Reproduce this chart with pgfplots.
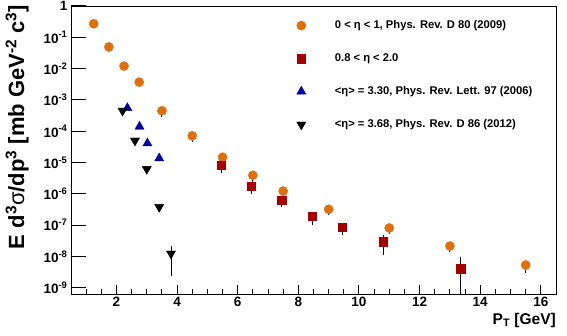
\documentclass[border=0pt]{standalone}
\usepackage{pgfplots}
\pgfplotsset{compat=1.18}
\usepackage{fontspec}
\setmainfont{Liberation Sans}
\definecolor{corange}{RGB}{220,112,14}
\definecolor{cred}{RGB}{165,0,0}
\definecolor{cblue}{RGB}{0,0,160}

\pgfplotstableread{
x y ep em
1.25 0.27 0.02 0.02
1.75 0.049 0.004 0.004
2.25 0.012 0.001 0.001
2.75 0.0037 0.0004 0.0004
3.5 4.5e-4 1.2e-4 1.6e-4
4.5 7.1e-5 2.0e-5 2.6e-5
5.5 1.47e-5 4e-6 5e-6
6.5 3.9e-6 1.1e-6 1.6e-6
7.5 1.22e-6 3e-7 4e-7
9 3.2e-7 8e-8 1.1e-7
11 8.1e-8 2e-8 2.8e-8
13 2.15e-8 7e-9 8e-9
15.5 5.3e-9 2e-9 2.4e-9
}\datacirc

\pgfplotstableread{
x y ep em
5.45 8.1e-6 2.4e-6 3.4e-6
6.45 1.73e-6 5e-7 7.3e-7
7.45 6.2e-7 1.8e-7 2.4e-7
8.46 1.9e-7 7.6e-8 9e-8
9.45 8.5e-8 3.4e-8 3.8e-8
10.8 3.0e-8 1.9e-8 1.86e-8
13.35 4.0e-9 5.7e-9 3.99e-9
}\datasq

\pgfplotstableread{
x y
2.36 5.5e-4
2.76 1.4e-4
3.02 4.1e-5
3.41 1.36e-5
}\datatri

\pgfplotstableread{
x y ep em
2.2 4.5e-4 0 0
2.61 5e-5 0 0
3.0 6.2e-6 0 0
3.41 3.8e-7 0 0
3.8 1.23e-8 8.8e-9 1.0e-8
}\datadown

\begin{document}
\begin{tikzpicture}
% y ticks, data, legend
\begin{axis}[name=ax, scale only axis, width=485pt, height=288pt,
  ymode=log, log basis y=10, xmin=0.5, xmax=16.5, ymin=6.3e-10, ymax=1,
  axis line style={line width=0.9pt},
  tick align=inside, tick pos=left,
  tick style={black, line width=1pt},
  ticklabel style={font=\bfseries\fontsize{13.5}{14}\selectfont},
  major tick length=15pt, minor tick length=7.5pt,
  xtick=\empty,
  ytickten={-9,-8,...,0},
  yticklabel={\pgfmathtruncatemacro\ee{round(\tick)}\ifnum\ee=0 1\else 10\textsuperscript{\ee}\fi},
  ylabel={E d\textsuperscript{3}{\mdseries σ}/dp\textsuperscript{3} [mb GeV\textsuperscript{-2} c\textsuperscript{3}]},
  ylabel style={font=\bfseries\fontsize{22}{23}\selectfont, at={(axis description cs:-0.111,1.005)}, anchor=east, inner sep=0pt},
  legend style={draw=none, fill=none, at={(axis description cs:0.465,0.76)}, anchor=west,
    font=\bfseries\fontsize{11.2}{12}\selectfont, row sep=19.5pt, inner sep=0pt,
    /tikz/every odd column/.append style={column sep=27pt}},
  legend cell align=left,
]
\addplot[only marks, mark=*, mark size=4.6pt, color=corange,
  error bars/.cd, y dir=both, y explicit, error mark=none,
  error bar style={black, line width=1pt}]
  table[x=x, y=y, y error plus=ep, y error minus=em] {\datacirc};
\addlegendentry{0 < η < 1, Phys. Rev. D 80 (2009)}
\addplot[only marks, mark=square*, mark size=4.3pt, color=cred,
  error bars/.cd, y dir=both, y explicit, error mark=none,
  error bar style={black, line width=1pt}]
  table[x=x, y=y, y error plus=ep, y error minus=em] {\datasq};
\addlegendentry{0.8 < η < 2.0}
\addplot[only marks, mark=triangle*, mark size=5.3pt, color=cblue]
  table[x=x, y=y] {\datatri};
\addlegendentry{<η> = 3.30, Phys. Rev. Lett. 97 (2006)}
\addplot[only marks, mark=triangle*, mark size=5.3pt, mark options={rotate=180}, color=black,
  error bars/.cd, y dir=both, y explicit, error mark=none,
  error bar style={black, line width=1pt}]
  table[x=x, y=y, y error plus=ep, y error minus=em] {\datadown};
\addlegendentry{<η> = 3.68, Phys. Rev. D 86 (2012)}
\end{axis}
% x ticks
\begin{axis}[scale only axis, width=485pt, height=288pt,
  xmin=0.5, xmax=16.5, ymin=0, ymax=1,
  axis line style={line width=0.9pt},
  tick align=inside, tick pos=left,
  tick style={black, line width=1pt},
  /pgf/number format/assume math mode=true,
  ticklabel style={font=\bfseries\fontsize{13.5}{14}\selectfont},
  major tick length=9pt, minor tick length=5pt,
  ytick=\empty,
  xtick={2,4,...,16},
  minor xtick={0.5,1,1.5,2.5,3,3.5,4.5,5,5.5,6.5,7,7.5,8.5,9,9.5,10.5,11,11.5,12.5,13,13.5,14.5,15,15.5,16.5},
  xlabel={P\textsubscript{T} [GeV]},
  xlabel style={font=\bfseries\fontsize{15.5}{16}\selectfont, at={(axis description cs:1,-0.066)}, anchor=north east, inner sep=0pt},
]
\end{axis}
\pgfresetboundingbox
\path ([xshift=-71pt,yshift=-42pt]ax.south west) rectangle ([xshift=11pt,yshift=6pt]ax.north east);
\end{tikzpicture}
\end{document}
